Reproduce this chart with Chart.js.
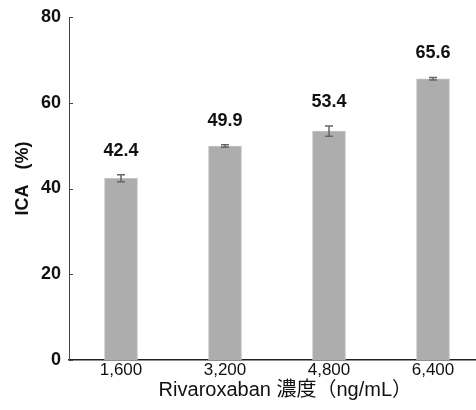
<!DOCTYPE html>
<html>
<head>
<meta charset="utf-8">
<script src="https://cdn.jsdelivr.net/npm/chart.js@4"></script>
<style>
  html, body { margin: 0; padding: 0; background: #fff; overflow: hidden; }
  #wrap { width: 476px; height: 410px; overflow: hidden; }
  #c { display: block; }
</style>
</head>
<body>
<div id="wrap"><canvas id="c" width="485" height="410"></canvas></div>
<script>
// Concentrations (ng/mL), ICA means and their error bars
const categories = ['1,600', '3,200', '4,800', '6,400'];
const icaValues = [42.4, 49.9, 53.4, 65.6];
const icaErrors = [0.8, 0.3, 1.2, 0.3];
const yTicks = [0, 20, 40, 60, 80];

const FONT = "'Liberation Sans', 'Noto Sans CJK JP', sans-serif";

// Error bars, inner tick marks and value labels
const decorations = {
  id: 'decorations',
  afterDatasetsDraw(chart) {
    const ctx = chart.ctx;
    const meta = chart.getDatasetMeta(0);
    const y = chart.scales.y;
    const area = chart.chartArea;
    ctx.save();
    // small ticks pointing into the plot
    ctx.strokeStyle = '#444';
    ctx.lineWidth = 1;
    yTicks.forEach(t => {
      const py = Math.round(y.getPixelForValue(t)) + 0.5;
      ctx.beginPath();
      ctx.moveTo(area.left, py);
      ctx.lineTo(area.left + 4, py);
      ctx.stroke();
    });
    meta.data.forEach((bar, i) => {
      const v = icaValues[i], e = icaErrors[i];
      const x = bar.x;
      const yTop = y.getPixelForValue(v + e);
      const yBot = y.getPixelForValue(v - e);
      ctx.strokeStyle = '#666';
      ctx.lineWidth = 1.5;
      ctx.beginPath();
      ctx.moveTo(x, yTop); ctx.lineTo(x, yBot);
      ctx.moveTo(x - 4, yTop); ctx.lineTo(x + 4, yTop);
      ctx.moveTo(x - 4, yBot); ctx.lineTo(x + 4, yBot);
      ctx.stroke();
      ctx.fillStyle = '#111';
      ctx.font = 'bold 18px ' + FONT;
      ctx.textAlign = 'center';
      ctx.textBaseline = 'alphabetic';
      ctx.fillText(v.toFixed(1), x, yTop - 19);
    });
    ctx.restore();
  }
};

new Chart(document.getElementById('c'), {
  type: 'bar',
  data: {
    labels: categories,
    datasets: [{
      data: icaValues,
      backgroundColor: '#adadad',
      borderColor: '#c4c4c4',
      borderWidth: 1,
      barThickness: 33
    }]
  },
  options: {
    responsive: false,
    animation: false,
    layout: { padding: { top: 11, right: 0, left: 0, bottom: 0 } },
    plugins: { legend: { display: false }, tooltip: { enabled: false } },
    scales: {
      x: {
        grid: { display: false, drawTicks: false },
        border: { display: true, color: '#222', width: 1.5 },
        ticks: { color: '#111', font: { family: FONT, size: 17 }, padding: 0, maxRotation: 0 },
        title: {
          display: true,
          text: '   Rivaroxaban 濃度（ng/mL）',
          color: '#111',
          font: { family: FONT, size: 20 },
          padding: { top: 0, bottom: 8 }
        },
        afterFit(scale) { scale.height = 50; }
      },
      y: {
        min: 0, max: 80,
        afterBuildTicks(scale) { scale.ticks = yTicks.map(v => ({ value: v })); },
        grid: { display: false, drawTicks: false },
        border: { display: true, color: '#444', width: 1 },
        ticks: { color: '#111', font: { family: FONT, size: 18, weight: 'bold', lineHeight: 1 }, padding: 8 },
        title: {
          display: true,
          text: '    ICA   (%)',
          color: '#111',
          font: { family: FONT, size: 18, weight: 'bold' },
          padding: { top: 12, bottom: 0 }
        },
        afterFit(scale) { scale.width = 69; }
      }
    }
  },
  plugins: [decorations]
});
</script>
</body>
</html>
